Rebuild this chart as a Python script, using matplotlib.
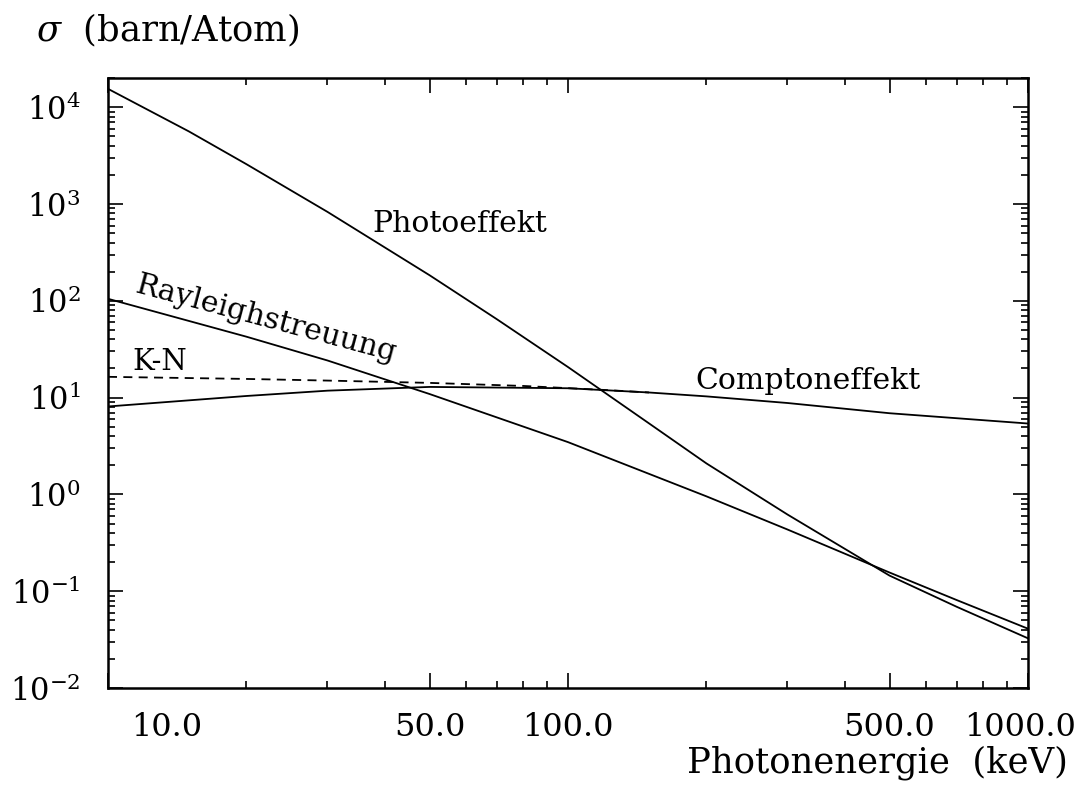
import numpy as np
import matplotlib
matplotlib.use("Agg")
import matplotlib.pyplot as plt
from matplotlib.ticker import FixedLocator, FixedFormatter, LogFormatterSciNotation
from matplotlib.transforms import ScaledTranslation

plt.rcParams['font.family'] = 'DejaVu Serif'
plt.rcParams['mathtext.fontset'] = 'dejavuserif'

# Wirkungsquerschnitte (barn/Atom) gegen Photonenergie (keV)
E_photo = [10, 15, 20, 30, 50, 70, 100, 150, 200, 300, 500, 700, 1000]
s_photo = [15500, 5620, 2580, 830, 184, 64.7, 20.7, 5.42, 2.09, 0.62, 0.145, 0.069, 0.0326]

E_rayl = [10, 20, 30, 50, 100, 200, 300, 500, 700, 1000]
s_rayl = [105, 42.6, 24.2, 10.9, 3.47, 0.955, 0.434, 0.156, 0.081, 0.041]

E_compt = [10, 20, 30, 50, 100, 150, 200, 300, 500, 1000]
s_compt = [8.1, 10.4, 11.8, 12.9, 12.5, 11.3, 10.3, 8.8, 6.9, 5.4]

# Klein-Nishina (freie Elektronen)
E_kn = [10, 20, 30, 50, 80, 120, 150]
s_kn = [16.4, 15.6, 15.0, 14.2, 13.2, 12.0, 11.3]

x_ticks = [10, 50, 100, 500, 1000]
x_labels = ['10.0', '50.0', '100.0', '500.0', '1000.0']
x_minor = [20, 30, 40, 60, 70, 80, 90, 200, 300, 400, 600, 700, 800, 900]

fig = plt.figure(figsize=(10.82, 7.89), dpi=100)
ax = fig.add_axes([0.0998, 0.128, 0.8503, 0.773])

ax.plot(E_photo, s_photo, color='black', lw=1.3)
ax.plot(E_rayl, s_rayl, color='black', lw=1.3)
ax.plot(E_compt, s_compt, color='black', lw=1.3)
ax.plot(E_kn, s_kn, color='black', lw=1.3, dashes=(5, 3.5))

ax.set_xscale('log')
ax.set_yscale('log')
ax.set_xlim(10, 1000)
ax.set_ylim(1e-2, 2e4)

ax.xaxis.set_major_locator(FixedLocator(x_ticks))
ax.xaxis.set_major_formatter(FixedFormatter(x_labels))
ax.xaxis.set_minor_locator(FixedLocator(x_minor))
ax.xaxis.set_minor_formatter(FixedFormatter([''] * len(x_minor)))

y_major = [10.0 ** k for k in range(-2, 5)]
y_minor = [m * 10.0 ** k for k in range(-2, 5) for m in range(2, 10)]
ax.yaxis.set_major_locator(FixedLocator(y_major))
ax.yaxis.set_major_formatter(LogFormatterSciNotation())
ax.yaxis.set_minor_locator(FixedLocator(y_minor))
ax.yaxis.set_minor_formatter(FixedFormatter([''] * len(y_minor)))

ax.tick_params(which='both', direction='in', top=True, right=True, width=1.2)
ax.tick_params(which='major', length=11, labelsize=22)
ax.tick_params(axis='x', which='major', pad=17, labelsize=23)
ax.tick_params(axis='y', which='major', pad=20)
ax.tick_params(which='minor', length=5)
for sp in ax.spines.values():
    sp.set_linewidth(1.8)

# erste und letzte x-Beschriftung etwas verschieben
fig.canvas.draw()
xt = ax.xaxis.get_major_ticks()
for t, dx in [(xt[0], 0.59), (xt[-1], -0.08)]:
    lbl = t.label1
    lbl.set_transform(lbl.get_transform() + ScaledTranslation(dx, 0, fig.dpi_scale_trans))

# Beschriftung der Kurven
ax.text(0.287, 0.748, 'Photoeffekt', transform=ax.transAxes, fontsize=21.5,
        ha='left', va='baseline')
ax.text(0.172, 0.604, 'Rayleighstreuung', transform=ax.transAxes, fontsize=21.5,
        ha='center', va='center', rotation=-15, rotation_mode='anchor')
ax.text(0.027, 0.521, 'K-N', transform=ax.transAxes, fontsize=21,
        ha='left', va='baseline')
ax.text(0.638, 0.490, 'Comptoneffekt', transform=ax.transAxes, fontsize=21.5,
        ha='left', va='baseline')

fig.text(0.033, 0.962, r'$\sigma$  (barn/Atom)', fontsize=25.5, ha='left', va='center')
fig.text(0.987, 0.033, 'Photonenergie  (keV)', fontsize=25.5, ha='right', va='center')

fig.savefig('out.png', dpi=100)
